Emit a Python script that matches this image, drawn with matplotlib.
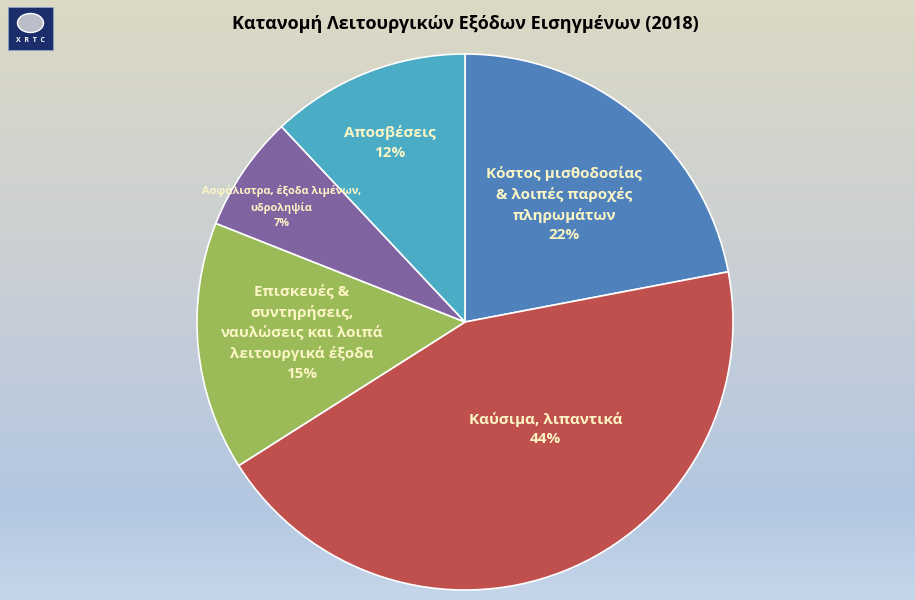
import matplotlib.pyplot as plt
import numpy as np
from matplotlib.colors import LinearSegmentedColormap
from matplotlib.patches import Rectangle, Ellipse

plt.rcParams['font.family'] = ['Open Sans', 'DejaVu Sans']

categories = ['Κόστος μισθοδοσίας\n& λοιπές παροχές\nπληρωμάτων',
              'Καύσιμα, λιπαντικά',
              'Επισκευές &\nσυντηρήσεις,\nναυλώσεις και λοιπά\nλειτουργικά έξοδα',
              'Ασφάλιστρα, έξοδα λιμένων,\nυδροληψία',
              'Αποσβέσεις']
shares = [22, 44, 15, 7, 12]

colors = ['#4f81bd', '#c0504d', '#9bbb59', '#8064a2', '#4bacc6']
label_pos = [(0.37, 0.44), (0.30, -0.40), (-0.61, -0.04), (-0.685, 0.43), (-0.28, 0.67)]
label_size = [11, 11, 11, 7.8, 11]

fig = plt.figure(figsize=(9.15, 6.0), dpi=100)

# background: beige at the top fading to pale blue at the bottom
bg = fig.add_axes([0, 0, 1, 1])
cmap = LinearSegmentedColormap.from_list(
    'bg', [(0, '#dcd9c4'), (0.5, '#c7ced6'), (0.84, '#b3c7e1'), (1, '#c6d6ea')])
grad = np.linspace(0, 1, 256).reshape(-1, 1)
bg.imshow(grad, cmap=cmap, aspect='auto', extent=[0, 1, 0, 1], origin='upper')
bg.set_xlim(0, 1)
bg.set_ylim(0, 1)
bg.axis('off')

# small logo block in the top-left corner
bg.add_patch(Rectangle((8 / 915, 1 - 50 / 600), 45 / 915, 43 / 600,
                       facecolor='#1c2d6b', edgecolor='#8aa0c8', lw=0.6))
bg.add_patch(Ellipse((30.5 / 915, 1 - 23 / 600), 26 / 915, 19 / 600,
                     facecolor='#b9bec8', edgecolor='white', lw=1.0))
bg.text(30.5 / 915, 1 - 41 / 600, 'X  R  T  C', color='white', fontsize=5,
        fontweight='bold', ha='center', va='center')

fig.text(465 / 915, 1 - 24 / 600, 'Κατανομή Λειτουργικών Εξόδων Εισηγμένων (2018)',
         ha='center', va='center', fontsize=13, fontweight='bold', color='black')

r_px = 270
ax = fig.add_axes([(465 - r_px) / 915, (600 - 322 - r_px) / 600,
                   2 * r_px / 915, 2 * r_px / 600])
ax.pie(shares, colors=colors, startangle=90, counterclock=False,
       wedgeprops=dict(edgecolor='white', linewidth=1.2))
ax.set_xlim(-1.0074, 1.0074)
ax.set_ylim(-1.0074, 1.0074)
ax.set_aspect('equal')
ax.axis('off')

for name, val, (x, y), fs in zip(categories, shares, label_pos, label_size):
    ax.text(x, y, f'{name}\n{val}%', ha='center', va='center', fontsize=fs,
            fontweight='bold', color='#fbf5c4', linespacing=1.5)

fig.savefig('out.png', dpi=100)
